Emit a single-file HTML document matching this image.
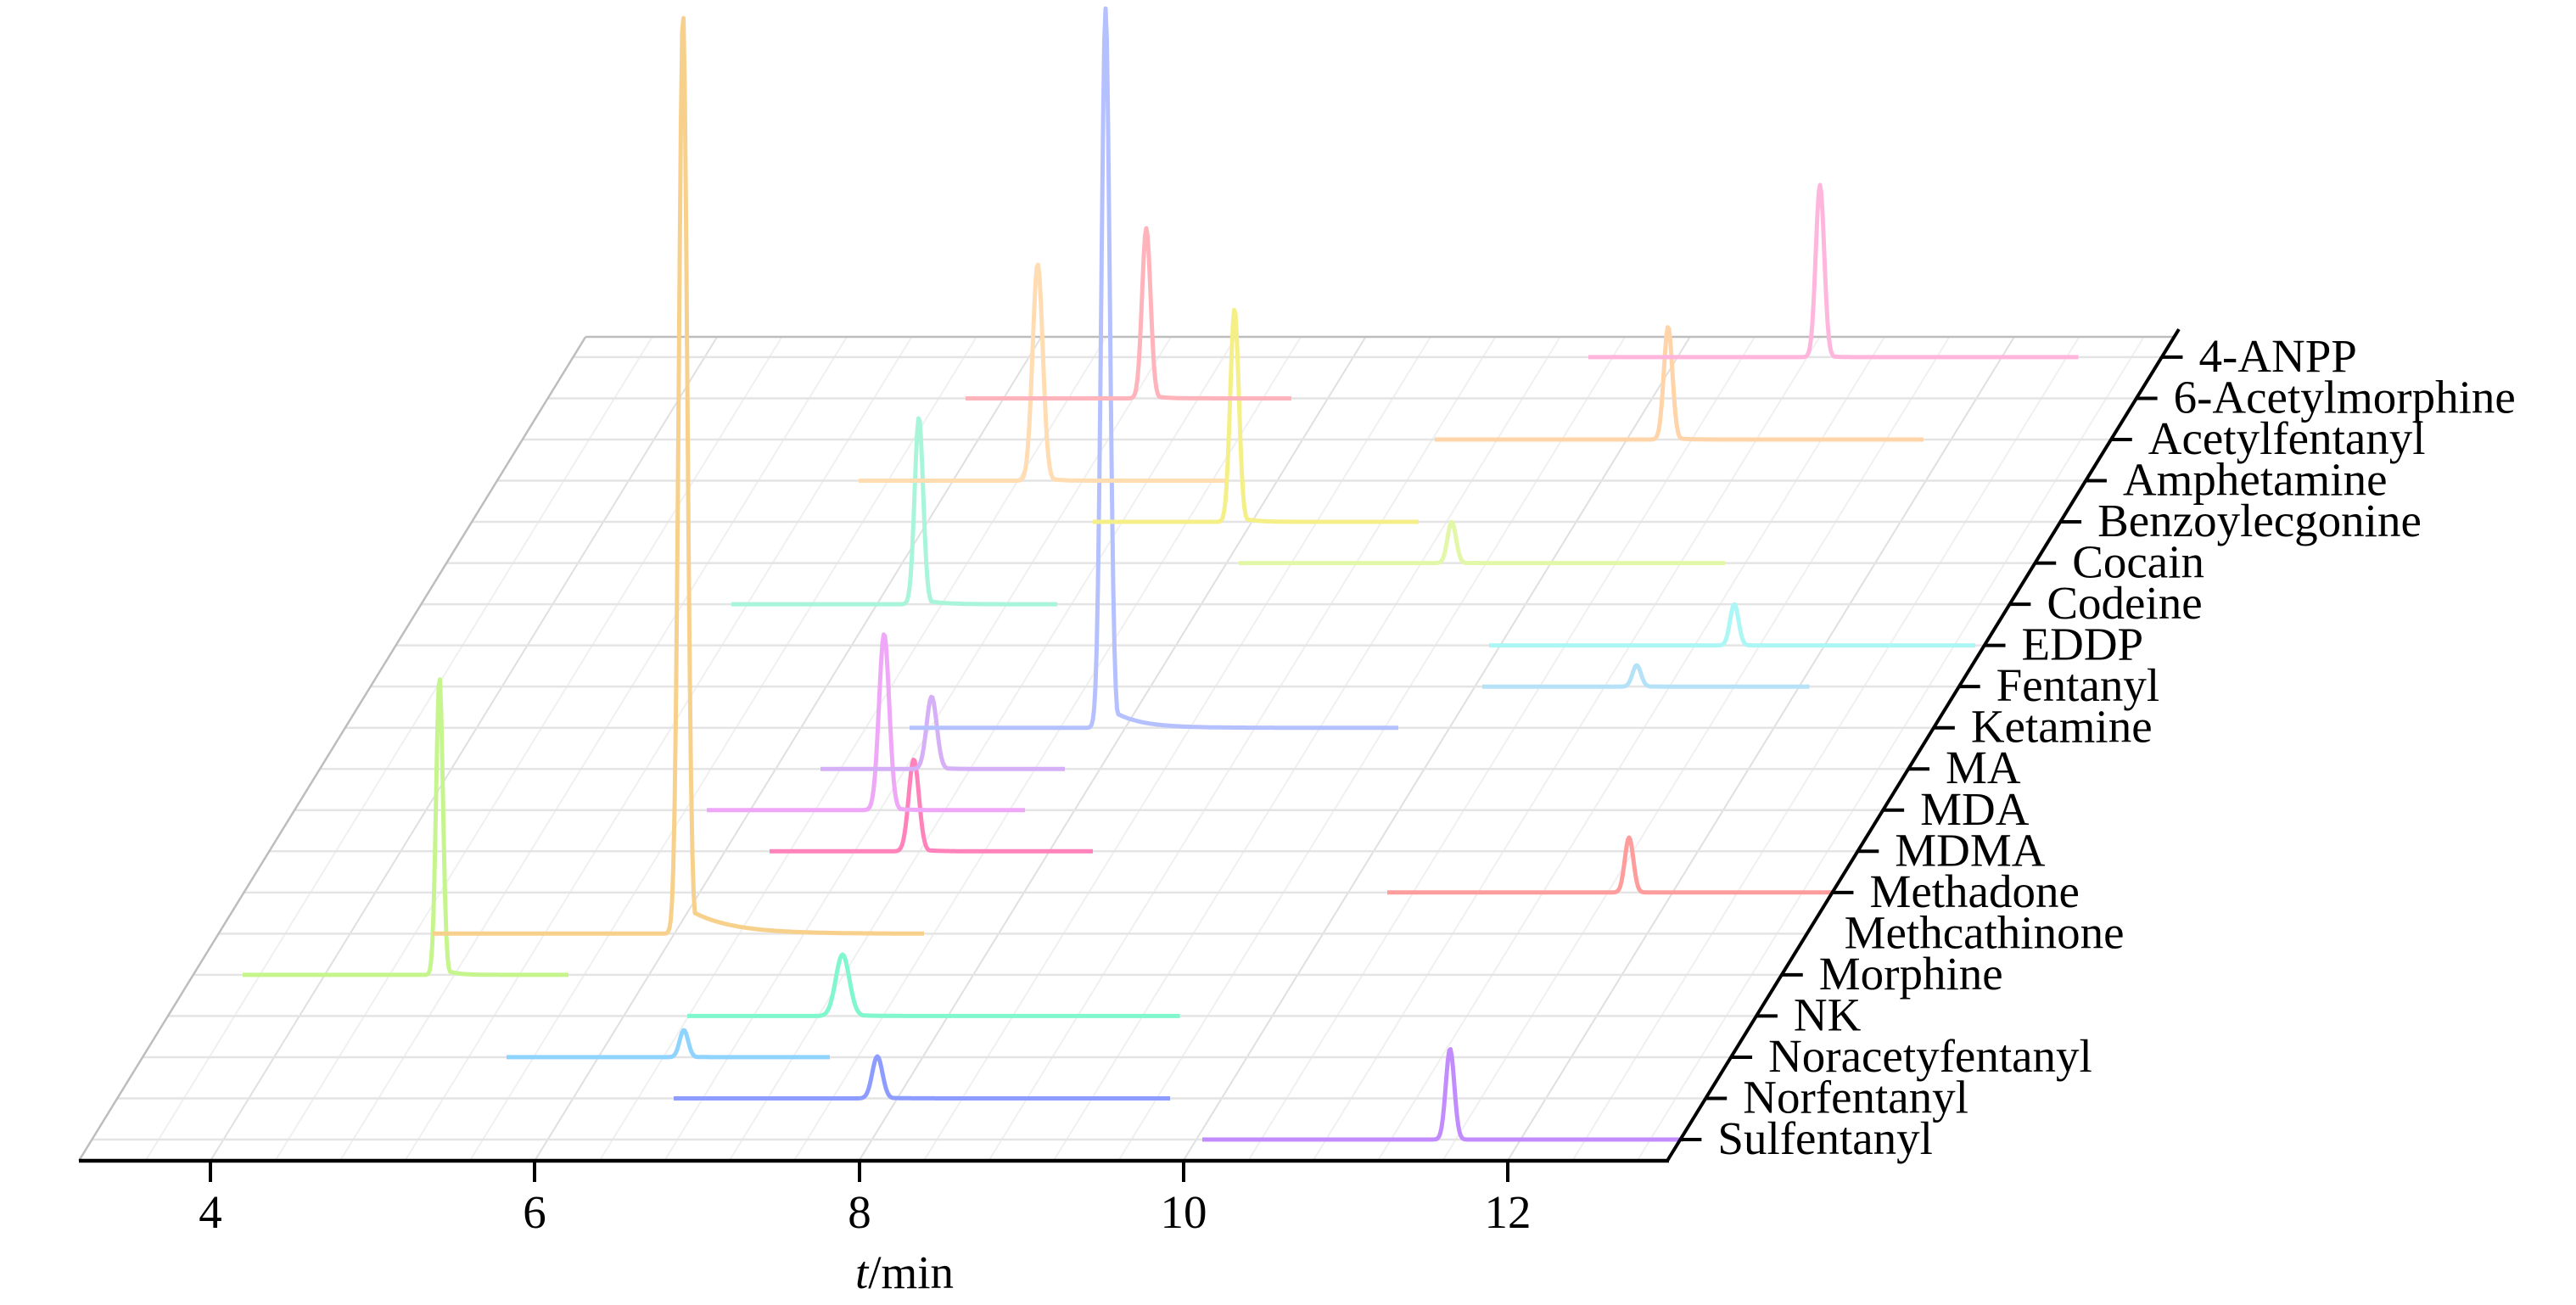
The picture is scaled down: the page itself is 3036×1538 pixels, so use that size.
<!DOCTYPE html>
<html><head><meta charset="utf-8"><style>
html,body{margin:0;padding:0;background:#fff;}
svg{display:block;}
text{font-family:"Liberation Serif","DejaVu Serif",serif;fill:#000;}
</style></head><body>
<svg id="s" width="3036" height="1538" viewBox="0 0 3036 1538" xmlns="http://www.w3.org/2000/svg">
<g id="grid"></g>
<g id="traces" fill="none" stroke-width="5" stroke-linejoin="round"></g>
<g id="axes"></g>
<g font-size="55">
<text x="248" y="1447" text-anchor="middle">4</text>
<text x="630" y="1447" text-anchor="middle">6</text>
<text x="1013" y="1447" text-anchor="middle">8</text>
<text x="1395" y="1447" text-anchor="middle">10</text>
<text x="1777" y="1447" text-anchor="middle">12</text>
<text x="1066" y="1518" text-anchor="middle"><tspan font-style="italic">t</tspan>/min</text>
</g>
<g id="labels" font-size="55"></g>
</svg>
<script>
var NS="http://www.w3.org/2000/svg";
function el(p,t,a){var e=document.createElementNS(NS,t);for(var k in a)e.setAttribute(k,a[k]);p.appendChild(e);return e;}
var g=document.getElementById('grid'),ax=document.getElementById('axes'),tr=document.getElementById('traces'),lb=document.getElementById('labels');
var k=0.615,yb=1368,yt=397;
function edgeL(y){return 93+(yb-y)*k;}
function edgeR(y){return 1965+(yb-y)*k;}
function rowY(i){return 1343-48.53*i;}
for(var t=3.6;t<13.9;t+=0.4){var xb=248+(t-4)*191.1;if(xb>1965)break;
 var maj=Math.abs(t/2-Math.round(t/2))<0.01;
 el(g,'line',{x1:xb,y1:yb,x2:xb+(yb-yt)*k,y2:yt,stroke:maj?'#e0e0e0':'#f0f0f0','stroke-width':2});}
for(var i=0;i<20;i++){var y=rowY(i);el(g,'line',{x1:edgeL(y),y1:y,x2:edgeR(y),y2:y,stroke:'#e4e4e4','stroke-width':2.5});}
el(g,'line',{x1:edgeL(yt),y1:yt,x2:edgeR(yt),y2:yt,stroke:'#bdbdbd','stroke-width':2.5});
el(g,'line',{x1:93,y1:yb,x2:edgeL(yt),y2:yt,stroke:'#bdbdbd','stroke-width':2.5});
var D=[
[1417,1985,1714,1236,'#c28cff',5,0],
[794,1380,1039,1245,'#8c9cff',6,4],
[597,979,811,1214,'#8fd3ff',5,3],
[810,1391,998,1125,'#80f7cc',8,5],
[286,671,523,798,'#c6f58e',4,3],
[510,1090,810,16,'#f7d08c',5,12],
[1635,2160,1925,987,'#ff9c9c',5,2],
[907,1288,1082,895,'#ff82ba',6,4],
[833,1208,1047,747,'#eea8f7',6,3],
[967,1255,1103,821,'#d6b0f7',6,3],
[1072,1648,1308,10,'#b5c0ff',5,8],
[1747,2133,1934,784,'#b5e2f7',5,2],
[1755,2329,2049,712,'#acf6f6',5,2],
[862,1247,1088,492,'#a8f5da',5,5],
[1460,2034,1716,615,'#e2f7a8',5,2],
[1288,1673,1460,364,'#f5ef88',5,4],
[1012,1444,1228,311,'#ffdcb2',6,3],
[1691,2267,1971,385,'#ffd4a8',5,3],
[1138,1522,1356,269,'#ffb3ba',5,3],
[1872,2450,2150,218,'#ffb6dc',5,2]
];
for(var i=0;i<20;i++){var d=D[i],b=rowY(i),A=b-d[3],s=d[5],ta=d[6],pk=d[2]-5,pts=[];
 for(var x=d[0];x<=d[1];x+=1.5){var dx=x-pk,v;
  v=Math.exp(-dx*dx/(2*s*s));
  if(dx>0&&ta)v=Math.max(v,0.03*Math.exp(-dx/(ta*4))*(dx>s?1:0));
  pts.push(x.toFixed(1)+','+(b-A*v).toFixed(1));}
 el(tr,'polyline',{points:pts.join(' '),stroke:d[4]});}
el(ax,'line',{x1:93,y1:yb,x2:1967,y2:yb,stroke:'#000','stroke-width':4.5});
el(ax,'line',{x1:1965,y1:yb,x2:2568,y2:388,stroke:'#000','stroke-width':4});
[248,630,1013,1395,1777].forEach(function(x){el(ax,'line',{x1:x,y1:yb,x2:x,y2:1393,stroke:'#000','stroke-width':4});});
var names=['Sulfentanyl','Norfentanyl','Noracetyfentanyl','NK','Morphine','Methcathinone','Methadone','MDMA','MDA','MA','Ketamine','Fentanyl','EDDP','Codeine','Cocain','Benzoylecgonine','Amphetamine','Acetylfentanyl','6-Acetylmorphine','4-ANPP'];
for(var i=0;i<20;i++){var y=rowY(i),x=edgeR(y);
 if(i!=5)el(ax,'line',{x1:x+1,y1:y,x2:x+25,y2:y,stroke:'#000','stroke-width':4});
 var tx=el(lb,'text',{x:x+44,y:y+17});tx.textContent=names[i];}
</script>
</body></html>
